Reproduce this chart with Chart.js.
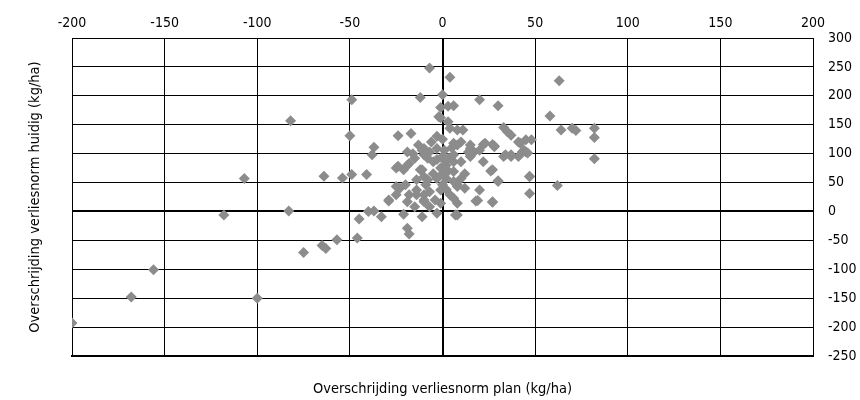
<!DOCTYPE html>
<html>
<head>
<meta charset="utf-8">
<script src="https://cdn.jsdelivr.net/npm/chart.js@4.4.1/dist/chart.umd.min.js"></script>
<style>
  html, body { margin: 0; padding: 0; background: #fff; }
  #wrap { width: 860px; height: 400px; }
</style>
</head>
<body>
<div id="wrap"><canvas id="overschrijding"></canvas></div>
<script>
// Overschrijding verliesnorm plan (x) vs huidig (y), kg/ha
const planX = [
  -200, -168, -156, -100, -118, -107, -83, -82, -75, -65, -63, -57, -46, -45,
  -64, -54, -49, -41, -37, -38, -49, -50, -40, -37, -33, -29, -24, -17,
  -21, -11, -3, -19, -18, -7, 4, -12, 0, -1, 3, -1, -2, 3, 4,
  -13, -10, -7, -3, 1, 5, 8, -19, -16,
  63, 58, 64, 70, 72, 82, 82, 82, 62, 47, 47, 27, 19, 20, 30, 26, 22, 7,
  48, 45, 42, 45, 34, 37, 23, 28, 15, 15, 20, 30, 6, 33, 37, 35, 8, 11,
  41, 43, 44, 14, 6, 22, 27,
  -23, -25, -18, -14, -10, -15, -7, -1, 4, -18, -21, -25, -15, -10,
  -5, -1, 2, 6, -3, 2, 6, 8, -9, -7, -1, 0, -12, -10, -24, -19, -11, -11,
  -25, -20, -14, -10, -29, -19, -10, 6, 10, 6, 10, 8, 12, 6, 8, 15, 17,
  27, 30, 18, 27, 8, 33, 37, 41, 46, 47, 15, 20, 28,
  -5, 0, 3, -8, -3, 0, 3, -6, 0, -3, 10, -14, -4, 2, 12, -8, 1
];
const huidigY = [
  -193, -148, -101, -150, -6, 57, 1, 157, -71, -59, -64, -49, -46, -13,
  61, 58, 64, 64, 111, 98, 193, 131, 0, 1, -9, 18, 131, 135,
  -5, -9, -3, -29, -39, 248, 232, 197, 202, 180, 182, 162, 164, 155, 144,
  115, 109, 103, 109, 106, 110, 115, 103, 100,
  226, 165, 141, 144, 140, 144, 128, 91, 45, 61, 31, 17, 19, 37, 52, 70, 86, -6,
  124, 124, 118, 103, 98, 95, 118, 113, 115, 98, 193, 183, 183, 145, 132, 138, 141, 141,
  120, 103, 106, 103, 118, 116, 116,
  40, 29, 29, 29, 20, 8, 8, 14, 29, 83, 72, 75, 92, 98,
  86, 75, 80, 86, 57, 57, 52, 43, 46, 34, 37, 46, 72, 60, 78, 80, 106, 72,
  43, 46, 37, 29, 20, 17, 17, 98, 86, 69, 57, 46, 40, 23, 14, 95, 103,
  72, 53, 18, 16, -6, 95, 98, 95, 101, 60, 109, 106, 112,
  65, 65, 70, 55, 90, 95, 92, 120, 125, 130, 120, 55, 20, 38, 65, 92, 88
];
const xTicks = [-200, -150, -100, -50, 0, 50, 100, 150, 200];
const yTicks = [-250, -200, -150, -100, -50, 0, 50, 100, 150, 200, 250, 300];

const points = planX.map((x, i) => ({ x: x, y: huidigY[i] }));
const narrow = "'DejaVu Sans Condensed', 'Liberation Sans Narrow', 'DejaVu Sans', sans-serif";

// zero lines are drawn a bit heavier, like the axes in the original
const gridWidth = c => (c.tick && c.tick.value === 0 ? 2 : 1);

new Chart(document.getElementById('overschrijding'), {
  type: 'scatter',
  data: {
    datasets: [{
      data: points,
      pointStyle: 'rectRot',
      pointRadius: 5.5,
      pointBorderWidth: 0,
      backgroundColor: '#8c8c8c',
      borderColor: '#8c8c8c'
    }]
  },
  options: {
    animation: false,
    maintainAspectRatio: false,
    events: [],
    layout: { padding: 0 },
    plugins: { legend: { display: false }, tooltip: { enabled: false } },
    scales: {
      x: {
        position: 'top',
        min: -200, max: 200,
        afterBuildTicks: s => { s.ticks = xTicks.map(v => ({ value: v })); },
        afterFit: s => { s.height = 38; },
        grid: { color: '#000', lineWidth: gridWidth, drawTicks: false },
        border: { display: true, color: '#000', width: 1 },
        ticks: { color: '#000', padding: 6, font: { family: narrow, size: 14 } }
      },
      xb: {
        type: 'linear',
        position: 'bottom',
        min: -200, max: 200,
        afterFit: s => { s.height = 44; },
        grid: { display: false, drawTicks: false },
        border: { display: true, color: '#000', width: 2 },
        ticks: { display: false },
        title: {
          display: true,
          text: 'Overschrijding verliesnorm plan (kg/ha)',
          color: '#000',
          padding: { top: 0, bottom: 2 },
          font: { family: narrow, size: 14.5 }
        }
      },
      y: {
        position: 'right',
        min: -250, max: 300,
        afterBuildTicks: s => { s.ticks = yTicks.map(v => ({ value: v })); },
        afterFit: s => { s.width = 47; },
        grid: { color: '#000', lineWidth: gridWidth, drawTicks: false },
        border: { display: true, color: '#000', width: 1 },
        ticks: { color: '#000', padding: 15, font: { family: narrow, size: 14 } }
      },
      yl: {
        type: 'linear',
        position: 'left',
        min: -250, max: 300,
        afterFit: s => { s.width = 72; },
        grid: { display: false, drawTicks: false },
        ticks: { display: false },
        title: {
          display: true,
          text: 'Overschrijding verliesnorm huidig (kg/ha)',
          color: '#000',
          padding: { top: 27, bottom: 0 },
          font: { family: narrow, size: 14.5 }
        }
      }
    }
  }
});
</script>
</body>
</html>
